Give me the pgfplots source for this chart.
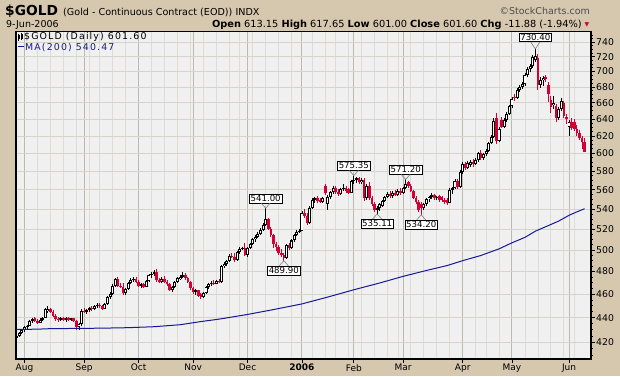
\documentclass[border=0pt]{standalone}
\usepackage{pgfplots}
\pgfplotsset{compat=1.18}
\usepackage{pgfplotstable}
\usepackage{fontspec}
\setmainfont{DejaVu Sans}
\newfontfamily\legfont[LetterSpace=12]{DejaVu Sans}
\definecolor{tanbg}{RGB}{214,200,175}
\definecolor{plotbg}{RGB}{240,240,240}
\definecolor{hgrid}{RGB}{214,212,200}
\definecolor{wgrid}{RGB}{222,220,212}
\definecolor{mgrid}{RGB}{188,186,176}
\definecolor{candred}{RGB}{212,0,52}
\definecolor{mablue}{RGB}{24,24,150}

\pgfplotstableread{
i o h l c
-3 423.5 426.0 420.5 425.0
-2 425.0 428.5 424.0 427.5
-1 427.5 431.0 426.5 430.0
0 430.0 433.5 428.5 432.5
1 432.5 434.0 430.5 433.5
2 433.5 438.5 433.0 437.5
3 437.5 440.0 436.0 439.0
6 436.0 439.5 435.5 438.5
7 438.5 440.5 437.0 439.5
8 440.0 448.0 439.5 447.0
9 445.5 449.5 444.0 447.5
14 438.0 440.5 437.0 439.5
16 438.0 440.5 436.5 439.5
18 438.5 440.0 437.0 439.5
21 432.0 436.0 430.0 434.5
22 434.5 447.5 433.5 446.0
24 445.0 447.0 443.0 446.5
25 446.5 449.0 444.5 448.0
27 447.0 450.5 446.5 450.0
28 449.5 452.0 448.0 451.0
31 447.5 452.5 447.0 451.5
32 451.5 458.5 451.0 457.5
33 457.5 462.0 455.5 460.5
34 460.5 469.0 459.5 467.5
35 467.5 474.5 466.5 473.0
39 461.0 465.5 459.5 464.5
40 464.5 471.0 464.0 470.0
41 470.0 474.0 469.0 472.5
42 472.5 475.0 470.5 473.5
45 467.5 469.5 465.5 468.5
47 466.5 472.0 466.0 471.5
48 471.5 477.5 470.5 476.5
49 476.5 479.5 474.5 478.0
50 478.0 481.0 476.0 479.5
53 471.0 475.0 470.0 473.5
57 463.5 467.0 461.5 466.0
58 466.0 471.5 465.0 470.5
59 470.5 475.0 469.5 474.0
60 473.5 477.0 472.0 475.5
61 475.5 479.5 474.5 477.0
66 462.0 464.5 459.5 463.5
69 457.5 462.0 456.5 461.0
70 461.0 467.0 460.0 466.0
71 466.0 470.0 464.5 468.5
72 468.5 471.5 467.0 470.0
74 469.0 472.5 468.5 471.5
76 470.5 486.0 470.0 485.0
77 485.0 489.0 483.5 487.0
78 487.0 491.0 485.5 489.5
79 489.5 496.0 488.5 494.5
82 490.5 499.0 490.0 498.0
83 498.0 502.5 496.5 501.0
84 501.0 503.0 499.5 502.0
86 495.5 503.0 493.5 501.5
87 501.5 507.0 501.0 505.5
88 505.5 511.0 504.5 510.0
89 510.0 514.0 508.0 512.5
90 512.5 517.0 511.0 515.5
91 515.5 521.0 514.5 519.5
92 519.5 526.0 518.5 524.5
93 524.5 541.0 523.0 530.0
101 492.5 506.0 491.5 504.5
103 501.5 510.0 500.5 509.0
104 509.0 515.5 508.0 514.0
105 514.0 519.0 513.0 517.5
106 517.5 520.5 516.0 518.5
107 518.5 538.0 518.0 536.0
110 526.5 543.0 525.5 541.5
111 541.5 551.0 540.5 549.5
112 549.5 553.0 546.0 551.5
115 547.0 552.5 546.5 551.5
117 545.0 555.0 539.0 552.5
118 552.5 558.5 550.5 557.5
119 557.5 564.5 556.0 562.0
122 556.0 561.5 554.5 560.5
123 560.5 566.0 559.0 562.5
126 557.0 571.0 556.5 569.5
127 569.5 575.35 566.0 571.0
128 571.0 574.0 567.5 572.5
130 568.0 573.0 566.5 571.0
132 551.0 566.0 549.5 564.0
136 539.5 543.0 535.11 541.0
137 541.0 546.5 538.5 545.5
138 543.5 549.5 542.0 548.5
139 548.5 554.0 547.0 552.5
140 552.5 557.5 551.0 556.0
142 554.0 558.5 551.5 557.0
144 555.0 560.5 553.5 559.0
146 556.5 563.5 555.5 562.0
147 562.0 571.2 560.5 566.5
154 541.0 546.5 539.5 545.0
155 545.0 551.5 543.5 550.0
156 550.0 554.0 547.5 552.5
157 552.5 556.5 550.5 554.5
159 551.0 553.5 549.0 552.5
164 546.5 561.5 546.0 560.0
165 560.0 563.0 556.0 561.5
166 561.5 571.5 560.5 570.0
168 563.5 581.0 562.5 579.5
169 579.5 590.0 577.0 588.0
171 583.5 591.0 582.5 589.5
172 586.5 592.5 584.5 590.5
174 588.0 594.5 587.0 593.0
175 592.5 601.5 590.5 600.0
177 594.5 600.5 593.0 599.0
178 599.0 604.5 597.5 603.0
179 603.0 613.5 601.5 612.0
180 612.0 621.0 610.5 619.0
181 619.0 641.0 618.0 638.0
183 614.5 630.5 613.0 628.0
185 631.0 641.5 629.5 639.5
186 639.5 649.0 636.5 646.0
187 646.0 657.5 644.5 655.5
188 655.5 667.5 654.0 665.0
190 665.5 679.0 664.5 676.5
191 676.5 683.0 673.5 680.5
192 680.5 686.0 677.5 683.5
193 683.5 698.0 681.0 695.5
194 695.5 706.0 692.5 703.5
195 703.5 710.0 699.5 707.0
196 707.0 722.0 705.5 719.0
197 716.0 730.4 712.5 720.5
199 682.0 692.5 678.5 689.0
200 689.0 694.5 681.0 692.0
204 657.0 668.5 652.0 660.0
206 641.5 655.0 639.5 652.0
207 652.0 665.5 649.5 662.5
210 630.5 638.5 620.0 637.0
}\upT

\pgfplotstableread{
i o h l c
4 439.5 441.0 436.5 437.0
5 437.5 439.0 434.5 436.0
10 447.5 448.5 443.5 444.5
11 444.5 446.5 440.5 441.5
12 441.5 443.0 437.5 439.0
13 439.0 440.5 436.5 438.0
15 439.5 441.0 437.0 438.0
17 439.5 441.0 437.5 438.5
19 439.5 440.0 436.5 437.5
20 437.5 438.0 430.0 432.0
23 446.0 448.5 443.5 445.0
26 448.0 450.0 446.0 447.0
29 451.0 452.5 448.5 449.5
30 449.5 451.0 446.5 447.5
36 473.0 475.0 466.0 467.0
37 467.5 470.0 465.0 466.5
38 466.5 469.5 459.0 461.0
43 473.5 475.5 470.0 471.0
44 471.0 472.0 466.5 467.5
46 468.5 470.0 465.5 466.5
51 479.5 482.5 470.5 472.0
52 472.5 474.5 469.5 471.0
54 473.5 476.0 470.0 471.0
55 471.0 472.5 467.5 468.5
56 468.5 470.0 462.5 463.5
62 477.0 478.5 472.5 474.0
63 474.0 475.0 469.5 470.5
64 470.5 471.5 463.5 465.0
65 465.0 466.5 460.5 462.0
67 463.5 464.0 457.5 458.5
68 460.5 461.0 456.0 457.5
73 470.0 472.0 468.0 469.0
75 471.5 473.0 469.5 470.5
80 494.5 497.5 492.0 493.0
81 493.5 497.5 489.0 490.5
85 502.0 506.5 494.0 495.5
94 530.0 531.0 519.0 520.5
95 520.5 522.0 512.5 514.0
96 514.0 515.5 501.5 506.0
97 506.0 508.0 499.0 502.5
98 502.5 505.0 495.5 497.0
99 497.0 500.5 493.0 495.5
100 495.0 497.5 489.9 492.5
102 504.5 506.5 500.0 501.5
108 536.0 540.0 531.0 533.0
109 533.0 536.0 524.0 526.5
113 551.5 553.5 546.5 548.0
114 549.5 551.5 546.0 547.0
116 564.5 566.5 555.0 556.5
120 562.0 564.0 555.5 558.0
121 558.0 561.0 553.5 556.0
124 562.5 564.0 557.0 558.5
125 561.0 562.5 555.5 557.0
129 572.5 573.5 566.5 568.0
131 571.0 572.5 548.0 551.0
133 564.0 568.0 549.0 551.5
134 551.5 553.5 543.0 545.0
135 545.0 547.0 537.5 539.5
141 556.0 559.0 552.0 554.0
143 557.0 559.5 553.5 555.0
145 559.0 561.5 555.0 556.5
148 568.5 569.5 562.5 564.0
149 564.0 566.5 557.5 559.0
150 559.0 560.0 550.0 551.5
151 551.5 553.5 545.0 547.0
152 547.0 549.0 537.0 539.0
153 545.5 547.0 534.2 541.0
158 554.5 556.0 549.5 551.0
160 553.5 555.0 547.0 549.5
161 552.5 554.0 547.5 549.0
162 549.0 551.0 545.0 547.5
163 549.5 551.0 544.0 546.5
167 570.0 572.0 561.0 563.5
170 588.0 590.5 581.5 583.5
173 590.5 594.0 585.0 588.0
176 600.0 604.0 592.5 594.5
182 641.5 648.0 611.0 614.5
184 639.5 642.0 629.5 631.0
189 667.5 671.5 662.0 665.5
198 718.0 724.0 676.0 682.0
201 693.5 696.0 686.5 690.0
202 682.5 686.0 660.5 670.5
203 664.0 668.0 648.0 654.5
205 656.0 659.0 636.0 641.5
208 660.0 662.0 641.0 643.5
209 642.0 646.0 634.5 640.5
211 637.0 641.5 627.0 629.5
212 636.0 640.0 626.0 628.5
213 628.5 633.0 619.5 624.0
214 624.0 627.5 615.0 617.5
215 617.5 619.5 605.0 613.5
216 613.15 617.65 601.0 601.6
}\dnT

\pgfplotstableread{
i v
-3.28 430.3
5 430.6
10 431.0
20 431.2
30 431.4
40 431.8
50 432.6
60 434.2
68 436.8
75 438.8
86 442.7
96 446.8
107 451.6
117 457.5
127 463.8
137 469.8
146 475.7
156 481.6
163 485.5
169 490.0
176 494.8
183 501.0
188 506.8
193 512.0
197 518.0
202 523.5
206 528.0
210 533.8
213 537.2
216 540.47
}\maT

\tikzset{
  hilab/.style={draw=black, fill=white, line width=0.6pt, inner sep=1.2pt, font=\fontsize{8.6}{9}\selectfont, anchor=south, yshift=5pt},
  lolab/.style={draw=black, fill=white, line width=0.6pt, inner sep=1.2pt, font=\fontsize{8.6}{9}\selectfont, anchor=north, yshift=-5pt},
}

\begin{document}
\begin{tikzpicture}
\useasboundingbox (0pt,0pt) rectangle (620pt,-376pt);
\fill[tanbg] (0pt,0pt) rectangle (620pt,-376pt);
\begin{axis}[
  at={(16pt,-359pt)}, anchor=south west,
  scale only axis, width=575pt, height=327.3pt,
  xmin=-3.28, xmax=218.47,
  ymin=6.00881, ymax=6.62632,
  axis background/.style={fill=plotbg},
  axis line style={black, line width=1.2pt},
  xtick={0,23,44,65,86,107,127,146,169,188,210},
  xticklabels={Aug,Sep,Oct,Nov,Dec,\textbf{2006},Feb,Mar,Apr,May,Jun},
  minor xtick={5,10,15,20,25,29,34,39,49,54,59,64,69,74,79,83,88,93,98,103,111,116,120,125,130,135,140,144,149,154,159,164,174,178,183,193,198,203,208,212},
  xmajorgrids, xminorgrids,
  major x grid style={draw=mgrid, line width=1pt},
  minor x grid style={draw=wgrid, line width=0.8pt},
  ytick={6.04025,6.08677,6.13123,6.17379,6.21461,6.25383,6.29157,6.32794,6.36303,6.39693,6.42972,6.46147,6.49224,6.52209,6.55108,6.57925,6.60665},
  yticklabels={420,440,460,480,500,520,540,560,580,600,620,640,660,680,700,720,740},
  minor ytick={6.01616,6.02828,6.05209,6.06379,6.07535,6.09807,6.10925,6.12030,6.14204,6.15273,6.16331,6.18415,6.19441,6.20456,6.22456,6.23441,6.24417,6.26340,6.27288,6.28227,6.30079,6.30992,6.31897,6.33683,6.34564,6.35437,6.37161,6.38012,6.38856,6.40523,6.41346,6.42162,6.43775,6.44572,6.45362,6.46925,6.47697,6.48464,6.49979,6.50728,6.51471,6.52942,6.53669,6.54391,6.55820,6.56526,6.57228,6.58617,6.59304,6.59987,6.61338,6.62007},
  ymajorgrids,
  major y grid style={draw=hgrid, line width=0.8pt},
  xtick pos=left, ytick pos=right, tick align=outside,
  major tick length=4pt, minor tick length=2pt,
  minor x tick style={draw=none},
  tick style={black, line width=0.8pt},
  yticklabel style={font=\fontsize{9.3}{10}\selectfont, inner sep=1pt},
  xticklabel style={font=\fontsize{9}{10}\selectfont, inner sep=1pt},
  /pgf/number format/assume math mode=true,
  clip=true,
]
% wicks
\addplot[draw=none, mark=none, forget plot, error bars/.cd, y dir=minus, y explicit, error mark=none,
  error bar style={draw=black, line width=0.9pt}]
  table[x=i, y expr=ln(\thisrow{h}), y error minus expr=ln(\thisrow{h})-ln(\thisrow{l})] {\upT};
\addplot[draw=none, mark=none, forget plot, error bars/.cd, y dir=minus, y explicit, error mark=none,
  error bar style={draw=candred, line width=0.9pt}]
  table[x=i, y expr=ln(\thisrow{h}), y error minus expr=ln(\thisrow{h})-ln(\thisrow{l})] {\dnT};
% up bodies (hollow)
\addplot[draw=none, mark=none, forget plot, error bars/.cd, y dir=minus, y explicit, error mark=none,
  error bar style={draw=black, line width=3.0pt}]
  table[x=i, y expr=ln(\thisrow{c}), y error minus expr=ln(\thisrow{c})-ln(\thisrow{o})] {\upT};
\addplot[draw=none, mark=none, forget plot, error bars/.cd, y dir=minus, y explicit, error mark=none,
  error bar style={draw=white, line width=1.1pt}]
  table[x=i, y expr=ln(\thisrow{c})-0.0019, y error minus expr={max(ln(\thisrow{c})-ln(\thisrow{o})-0.0038,0)}] {\upT};
% down bodies (filled)
\addplot[draw=none, mark=none, forget plot, error bars/.cd, y dir=minus, y explicit, error mark=none,
  error bar style={draw=candred, line width=2.6pt}]
  table[x=i, y expr=ln(\thisrow{o}), y error minus expr=ln(\thisrow{o})-ln(\thisrow{c})] {\dnT};
% MA(200)
\addplot[mablue, line width=1pt, mark=none] table[x=i, y expr=ln(\thisrow{v})] {\maT};
% annotations
\node[hilab] at (axis cs:93,6.29341) {541.00};
\draw[gray, line width=0.6pt] (axis cs:93,6.29341) ++(-4.5pt,5pt) -- ++(4.5pt,-5pt) -- ++(4.5pt,5pt);
\node[lolab] at (axis cs:100,6.19419) {489.90};
\draw[gray, line width=0.6pt] (axis cs:100,6.19419) ++(-4.5pt,-5pt) -- ++(4.5pt,5pt) -- ++(4.5pt,-5pt);
\node[hilab] at (axis cs:127,6.35498) {575.35};
\draw[gray, line width=0.6pt] (axis cs:127,6.35498) ++(-4.5pt,5pt) -- ++(4.5pt,-5pt) -- ++(4.5pt,5pt);
\node[lolab] at (axis cs:136,6.28246) {535.11};
\draw[gray, line width=0.6pt] (axis cs:136,6.28246) ++(-4.5pt,-5pt) -- ++(4.5pt,5pt) -- ++(4.5pt,-5pt);
\node[hilab] at (axis cs:147,6.34773) {571.20};
\draw[gray, line width=0.6pt] (axis cs:147,6.34773) ++(-4.5pt,5pt) -- ++(4.5pt,-5pt) -- ++(4.5pt,5pt);
\node[lolab] at (axis cs:153,6.28076) {534.20};
\draw[gray, line width=0.6pt] (axis cs:153,6.28076) ++(-4.5pt,-5pt) -- ++(4.5pt,5pt) -- ++(4.5pt,-5pt);
\node[hilab, yshift=2pt] at (axis cs:197,6.59359) {730.40};
\draw[gray, line width=0.6pt] (axis cs:197,6.59359) ++(-4.5pt,7pt) -- ++(4.5pt,-7pt) -- ++(4.5pt,7pt);
\end{axis}
% legend
\draw[black, line width=0.7pt] (18.5pt,-33.5pt) -- (18.5pt,-40.5pt);
\fill[black] (17.5pt,-35pt) rectangle (19.5pt,-39pt);
\draw[black, line width=0.7pt] (21.5pt,-33pt) -- (21.5pt,-40pt);
\draw[black, line width=0.5pt] (20.75pt,-34.5pt) rectangle (22.25pt,-38pt);
\node[anchor=base west, inner sep=0pt, font=\legfont\fontsize{9.4}{10}\selectfont] at (24pt,-39.5pt) {\$GOLD (Daily) 601.60};
\draw[mablue, line width=1.6pt] (18pt,-46.5pt) -- (24pt,-46.5pt);
\node[anchor=base west, inner sep=0pt, text=mablue, font=\legfont\fontsize{9.4}{10}\selectfont] at (25pt,-50pt) {MA(200) 540.47};
% title
\node[anchor=base west, inner sep=0pt, font=\fontsize{13.8}{15}\selectfont\bfseries] at (5pt,-15.5pt) {\$GOLD};
\node[anchor=base west, inner sep=0pt, font=\fontsize{9.6}{11}\selectfont] at (63pt,-15pt) {(Gold - Continuous Contract (EOD)) INDX};
\node[anchor=base east, inner sep=0pt, text=black!70, font=\fontsize{9.5}{11}\selectfont] at (590pt,-14.5pt) {©StockCharts.com};
\node[anchor=base west, inner sep=0pt, font=\fontsize{9.5}{11}\selectfont] at (6pt,-27.5pt) {9-Jun-2006};
\node[anchor=base east, inner sep=0pt, font=\fontsize{9.8}{11}\selectfont] at (582pt,-27.5pt) {\textbf{Open} 613.15 \textbf{High} 617.65 \textbf{Low} 601.00 \textbf{Close} 601.60 \textbf{Chg} -11.88 (-1.94\%)};
\node[anchor=base, inner sep=0pt, text=candred, font=\fontsize{6}{7}\selectfont] at (587pt,-26pt) {▼};
\end{tikzpicture}
\end{document}
